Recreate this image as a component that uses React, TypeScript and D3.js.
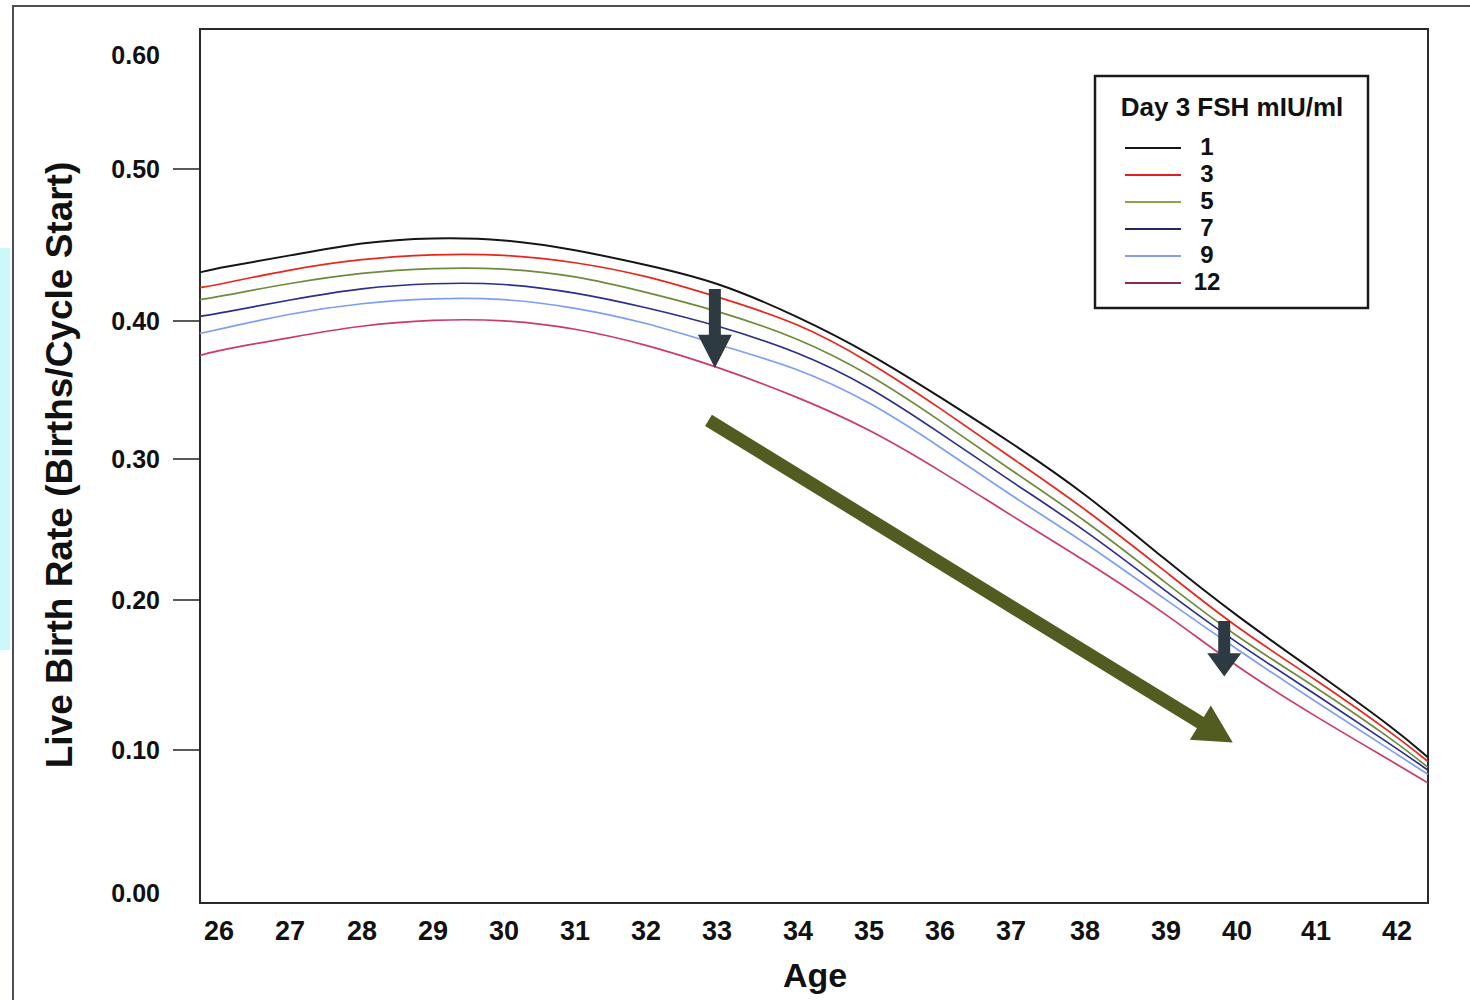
import { useEffect, useRef } from 'react';
import * as d3 from 'd3';

// ages (first/last points are the plot edges)
const ages = [25.73, 26, 27, 28, 29, 30, 31, 32, 33, 34, 35, 36, 37, 38, 39, 40, 41, 42, 42.38];

// live birth rate per FSH level
const fsh1 = [0.432, 0.435, 0.443, 0.452, 0.455, 0.454, 0.447, 0.437, 0.426, 0.403, 0.377, 0.345, 0.312, 0.276, 0.228, 0.189, 0.152, 0.113, 0.095];
const fsh3 = [0.422, 0.424, 0.434, 0.441, 0.444, 0.444, 0.439, 0.430, 0.416, 0.399, 0.371, 0.337, 0.301, 0.265, 0.220, 0.181, 0.147, 0.109, 0.092];
const fsh5 = [0.414, 0.416, 0.425, 0.432, 0.435, 0.435, 0.430, 0.419, 0.407, 0.388, 0.362, 0.328, 0.292, 0.257, 0.212, 0.175, 0.142, 0.105, 0.088];
const fsh7 = [0.403, 0.405, 0.414, 0.422, 0.425, 0.425, 0.419, 0.409, 0.397, 0.378, 0.353, 0.319, 0.284, 0.250, 0.206, 0.171, 0.137, 0.101, 0.086];
const fsh9 = [0.391, 0.394, 0.405, 0.412, 0.415, 0.415, 0.409, 0.399, 0.383, 0.366, 0.342, 0.309, 0.274, 0.241, 0.200, 0.167, 0.132, 0.097, 0.083];
const fsh12 = [0.375, 0.379, 0.388, 0.397, 0.401, 0.401, 0.395, 0.383, 0.367, 0.345, 0.322, 0.292, 0.260, 0.228, 0.191, 0.155, 0.122, 0.090, 0.077];

const seriesLabels = ['1', '3', '5', '7', '9', '12'];
const seriesValues = [fsh1, fsh3, fsh5, fsh7, fsh9, fsh12];
const lineColors = ['#151515', '#e8261e', '#6f8a3c', '#2b2f8c', '#7d9ef2', '#cc3a6c'];
const legendColors = ['#151515', '#e02020', '#8ea050', '#23265f', '#8a9cf0', '#8b2a52'];

const ageTicks = [26, 27, 28, 29, 30, 31, 32, 33, 34, 35, 36, 37, 38, 39, 40, 41, 42];
const rateTicks = [0, 0.1, 0.2, 0.3, 0.4, 0.5, 0.6];
const rateTickLabels = ['0.00', '0.10', '0.20', '0.30', '0.40', '0.50', '0.60'];

// annotation arrows, in data units [age, rate]
const downArrows = [
  { age: 32.97, from: 0.421, to: 0.366 },
  { age: 39.82, from: 0.186, to: 0.149 },
];
const trendArrow = { from: [32.88, 0.328], to: [39.94, 0.105] };

const W = 1470;
const H = 1000;

const App = () => {
  const svgRef = useRef<SVGSVGElement | null>(null);

  useEffect(() => {
    const svg = d3.select(svgRef.current);
    svg.selectAll('*').remove();

    const font = 'Liberation Sans, Arial, sans-serif';

    // the scanned figure is slightly uneven, so the scales follow the printed ticks
    const x = d3.scaleLinear()
      .domain(ageTicks)
      .range([219, 290, 362, 433, 504, 575, 646, 717, 798, 869, 940, 1011, 1085, 1166, 1237, 1316, 1397]);
    const y = d3.scaleLinear()
      .domain(rateTicks)
      .range([893, 750, 600, 459, 321, 169, 55]);

    const plot = { left: 200, top: 29, right: 1428, bottom: 903 };

    // outer page frame + cyan strip
    svg.append('rect').attr('x', 0).attr('y', 248).attr('width', 10).attr('height', 402).attr('fill', '#cdf8fb');
    svg.append('path')
      .attr('d', `M13,${H} L13,6 L${W},6`)
      .attr('fill', 'none').attr('stroke', '#4a4f55').attr('stroke-width', 2);

    // plot box
    svg.append('rect')
      .attr('x', plot.left).attr('y', plot.top)
      .attr('width', plot.right - plot.left).attr('height', plot.bottom - plot.top)
      .attr('fill', 'none').attr('stroke', '#2a2a2a').attr('stroke-width', 2);

    // y ticks + labels
    const yt = svg.append('g');
    yt.selectAll('line')
      .data(rateTicks.filter(d => d > 0 && d < 0.6))
      .enter()
      .append('line')
      .attr('x1', 173).attr('x2', plot.left)
      .attr('y1', d => y(d)).attr('y2', d => y(d))
      .attr('stroke', '#222').attr('stroke-width', 1.5);
    yt.selectAll('text')
      .data(rateTicks)
      .enter()
      .append('text')
      .attr('x', 160)
      .attr('y', d => y(d) + 9)
      .attr('text-anchor', 'end')
      .style('font-family', font).style('font-weight', 'bold').style('font-size', '25px')
      .style('fill', '#111')
      .text((d, i) => rateTickLabels[i]);

    // x labels
    svg.append('g').selectAll('text')
      .data(ageTicks)
      .enter()
      .append('text')
      .attr('x', d => x(d))
      .attr('y', 940)
      .attr('text-anchor', 'middle')
      .style('font-family', font).style('font-weight', 'bold').style('font-size', '27px')
      .style('fill', '#111')
      .text(d => d);

    // axis titles
    svg.append('text')
      .attr('x', 815).attr('y', 987)
      .attr('text-anchor', 'middle')
      .style('font-family', font).style('font-weight', 'bold').style('font-size', '34px')
      .style('fill', '#111')
      .text('Age');
    svg.append('text')
      .attr('transform', 'translate(72,465) rotate(-90)')
      .attr('text-anchor', 'middle')
      .style('font-family', font).style('font-weight', 'bold').style('font-size', '37px')
      .style('fill', '#111')
      .text('Live Birth Rate (Births/Cycle Start)');

    // curves
    const line = d3.line<number>()
      .x((d, i) => x(ages[i]))
      .y(d => y(d))
      .curve(d3.curveBasis);

    svg.append('g').selectAll('path')
      .data(seriesValues)
      .enter()
      .append('path')
      .attr('d', d => line(d))
      .attr('fill', 'none')
      .attr('stroke', (d, i) => lineColors[i])
      .attr('stroke-width', (d, i) => (i === 0 ? 2 : 1.7));

    // arrows
    const arrows = svg.append('g');
    downArrows.forEach(a => {
      const cx = x(a.age);
      const top = y(a.from);
      const tip = y(a.to);
      const headLen = (tip - top) * 0.42;
      const base = tip - headLen;
      const pts: [number, number][] = [
        [cx - 6, top], [cx + 6, top], [cx + 6, base], [cx + 17, base],
        [cx, tip], [cx - 17, base], [cx - 6, base],
      ];
      arrows.append('polygon')
        .attr('points', pts.map(p => p.join(',')).join(' '))
        .attr('fill', '#2e3a42');
    });

    const sx = x(trendArrow.from[0]);
    const sy = y(trendArrow.from[1]);
    const tx = x(trendArrow.to[0]);
    const ty = y(trendArrow.to[1]);
    const len = Math.hypot(tx - sx, ty - sy);
    const ux = (tx - sx) / len;
    const uy = (ty - sy) / len;
    const headL = 38;
    const bx = tx - ux * headL;
    const by = ty - uy * headL;
    arrows.append('line')
      .attr('x1', sx).attr('y1', sy)
      .attr('x2', bx + ux * 2).attr('y2', by + uy * 2)
      .attr('stroke', '#525c20').attr('stroke-width', 13);
    arrows.append('polygon')
      .attr('points', [
        [tx, ty],
        [bx - uy * 20, by + ux * 20],
        [bx + uy * 20, by - ux * 20],
      ].map(p => p.join(',')).join(' '))
      .attr('fill', '#525c20');

    // legend
    const lg = svg.append('g');
    lg.append('rect')
      .attr('x', 1095).attr('y', 76).attr('width', 273).attr('height', 232)
      .attr('fill', '#fff').attr('stroke', '#1a1a1a').attr('stroke-width', 2.5);
    lg.append('text')
      .attr('x', 1232).attr('y', 116)
      .attr('text-anchor', 'middle')
      .style('font-family', font).style('font-weight', 'bold').style('font-size', '26px')
      .style('fill', '#111')
      .text('Day 3 FSH mIU/ml');
    const items = lg.selectAll('g.item')
      .data(seriesLabels)
      .enter()
      .append('g')
      .attr('class', 'item')
      .attr('transform', (d, i) => `translate(0,${148 + i * 27})`);
    items.append('line')
      .attr('x1', 1125).attr('x2', 1181)
      .attr('stroke', (d, i) => legendColors[i])
      .attr('stroke-width', 2);
    items.append('text')
      .attr('x', 1207).attr('y', 7)
      .attr('text-anchor', 'middle')
      .style('font-family', font).style('font-weight', 'bold').style('font-size', '24px')
      .style('fill', '#111')
      .text(d => d);
  }, []);

  return (
    <svg
      ref={svgRef}
      width={W}
      height={H}
      style={{ position: 'absolute', left: 0, top: 0, background: '#fff' }}
    />
  );
};

export default App;
